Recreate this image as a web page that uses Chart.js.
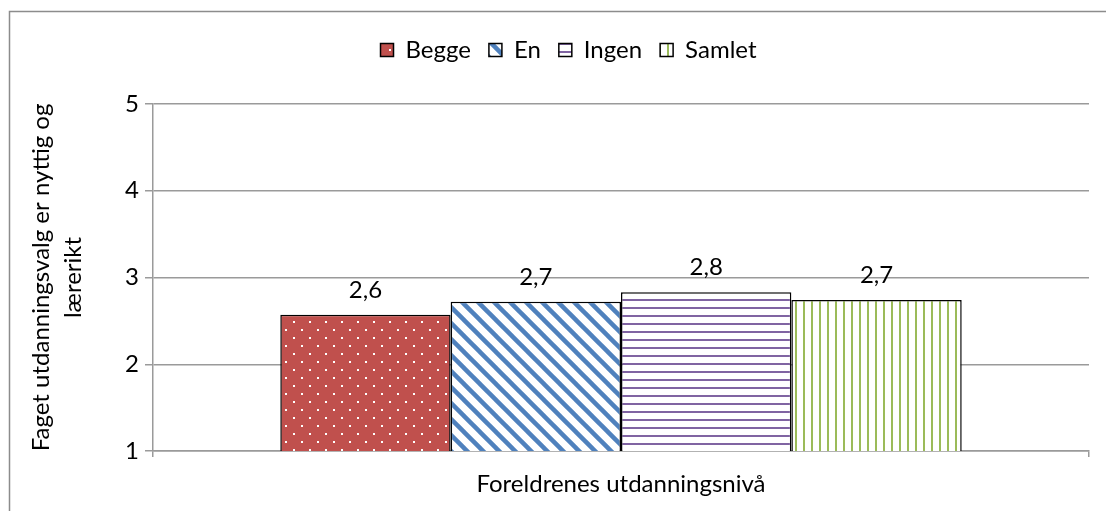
<!DOCTYPE html>
<html>
<head>
<meta charset="utf-8">
<script src="https://cdn.jsdelivr.net/npm/chart.js@4.4.1/dist/chart.umd.min.js"></script>
<style>
  html, body { margin: 0; padding: 0; background: #fff; }
  #wrap { width: 1106px; height: 511px; position: relative; }
</style>
</head>
<body>
<div id="wrap"><canvas id="myChart"></canvas></div>
<script>
// data
const categories = [""];
const seriesNames = ["Begge", "En", "Ingen", "Samlet"];
const begge = [2.57];
const en = [2.72];
const ingen = [2.83];
const samlet = [2.74];
const yTicks = [1, 2, 3, 4, 5];

const FONT = "Lato";
const FS = 24;

// fill patterns like the excel original
function makePattern(w, h, draw) {
    const c = document.createElement("canvas");
    c.width = w;
    c.height = h;
    const g = c.getContext("2d");
    draw(g, w, h);
    return document.getElementById("myChart").getContext("2d").createPattern(c, "repeat");
}

const dots = makePattern(16, 16, (g) => {
    g.fillStyle = "#c0504d";
    g.fillRect(0, 0, 16, 16);
    g.fillStyle = "#ffffff";
    g.fillRect(5, 1, 2, 2);
    g.fillRect(13, 9, 2, 2);
});
const diag = makePattern(16, 16, (g) => {
    g.fillStyle = "#ffffff";
    g.fillRect(0, 0, 16, 16);
    g.strokeStyle = "#4f81bd";
    g.lineWidth = 4.5;
    [-16, 0, 16].forEach((o) => {
        g.beginPath();
        g.moveTo(o - 2, -2);
        g.lineTo(o + 18, 18);
        g.stroke();
    });
});
const horiz = makePattern(8, 8, (g) => {
    g.fillStyle = "#ffffff";
    g.fillRect(0, 0, 8, 8);
    g.fillStyle = "#8064a2";
    g.fillRect(0, 3, 8, 2);
});
const vert = makePattern(8, 8, (g) => {
    g.fillStyle = "#ffffff";
    g.fillRect(0, 0, 8, 8);
    g.fillStyle = "#9bbb59";
    g.fillRect(3, 0, 2, 8);
});

const fills = [dots, diag, horiz, vert];
const values = [begge, en, ingen, samlet];

const dataChar = {
    labels: categories,
    datasets: seriesNames.map((name, i) => ({
        label: name,
        data: values[i],
        backgroundColor: fills[i],
        borderColor: "#000000",
        borderWidth: 1.5,
        borderSkipped: "bottom",
        categoryPercentage: 0.728,
        barPercentage: 1,
    })),
};

// outer frame of the chart (only top and left edges are in the picture)
const framePlugin = {
    id: "frame",
    beforeDraw(chart) {
        const c = chart.ctx;
        c.save();
        c.strokeStyle = "#8c8c8c";
        c.lineWidth = 1.5;
        c.beginPath();
        c.moveTo(9.5, 600);
        c.lineTo(9.5, 11.5);
        c.lineTo(1200, 11.5);
        c.stroke();
        c.restore();
    },
};

// extra room under the legend, and legend nudged a bit to the right
const legendGap = {
    id: "legendGap",
    beforeInit(chart) {
        const origFit = chart.legend.fit;
        chart.legend.fit = function () {
            origFit.bind(chart.legend)();
            this.height += 32;
        };
    },
    afterLayout(chart) {
        chart.legend.left += 24;
        chart.legend.right += 24;
    },
};

// value labels on top of the bars
const labelPlugin = {
    id: "barLabels",
    afterDatasetsDraw(chart) {
        const c = chart.ctx;
        c.save();
        c.font = FS + "px " + FONT;
        c.fillStyle = "#000000";
        c.textAlign = "center";
        c.textBaseline = "alphabetic";
        chart.data.datasets.forEach((ds, i) => {
            chart.getDatasetMeta(i).data.forEach((bar, j) => {
                const txt = ds.data[j].toFixed(1).replace(".", ",");
                c.fillText(txt, bar.x, bar.y - 17);
            });
        });
        c.restore();
    },
};

const ctx = document.getElementById("myChart");
const myChart = new Chart(ctx, {
    type: "bar",
    data: dataChar,
    plugins: [framePlugin, legendGap, labelPlugin],
    options: {
        responsive: true,
        maintainAspectRatio: false,
        animation: false,
        layout: { padding: { top: 20, right: 17, bottom: 12, left: 0 } },
        plugins: {
            tooltip: { enabled: false },
            legend: {
                position: "top",
                labels: {
                    color: "#000000",
                    boxWidth: 13,
                    boxHeight: 13,
                    padding: 18,
                    font: { family: FONT, size: FS },
                },
            },
        },
        scales: {
            x: {
                offset: true,
                grid: {
                    offset: true,
                    drawOnChartArea: false,
                    drawTicks: true,
                    tickLength: 6,
                    color: "#9a9a9a",
                    lineWidth: 1.5,
                },
                border: { color: "#9a9a9a", width: 1.5 },
                ticks: { display: false },
                title: {
                    display: true,
                    text: "Foreldrenes utdanningsnivå",
                    color: "#000000",
                    font: { family: FONT, size: FS },
                    padding: { top: 10, bottom: 0 },
                },
                afterFit(scale) {
                    scale.height = 48;
                },
            },
            y: {
                min: yTicks[0],
                max: yTicks[yTicks.length - 1],
                afterBuildTicks(scale) {
                    scale.ticks = yTicks.map((v) => ({ value: v }));
                },
                grid: {
                    color: "#9a9a9a",
                    lineWidth: 1.5,
                    tickLength: 8,
                },
                border: { color: "#9a9a9a", width: 1.5 },
                ticks: {
                    color: "#000000",
                    padding: 6,
                    font: { family: FONT, size: FS },
                },
                title: {
                    display: true,
                    text: ["Faget utdanningsvalg er nyttig og", "lærerikt"],
                    color: "#000000",
                    font: { family: FONT, size: FS, lineHeight: 1.3 },
                    padding: { top: 26, bottom: 0 },
                },
                afterFit(scale) {
                    scale.width = 153;
                },
            },
        },
    },
});
</script>
</body>
</html>
